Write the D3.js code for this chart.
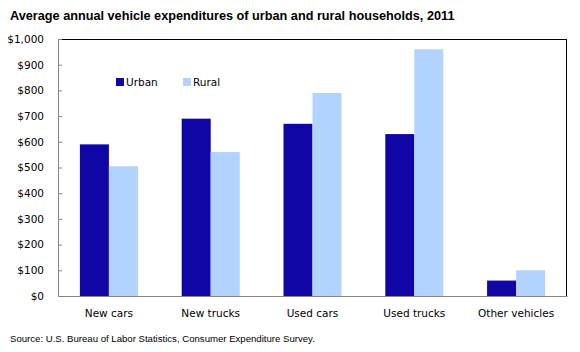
<!DOCTYPE html>
<html>
<head>
<meta charset="utf-8">
<script src="https://cdn.jsdelivr.net/npm/d3@7"></script>
<style>
  body { margin: 0; background: #fff; }
  svg { display: block; }
</style>
</head>
<body>
<div id="chart"></div>
<script>
// data
const categories = ["New cars", "New trucks", "Used cars", "Used trucks", "Other vehicles"];
const seriesNames = ["Urban", "Rural"];
const urban = [590, 690, 670, 630, 60];
const rural = [505, 560, 790, 960, 100];
const yTicks = [0, 100, 200, 300, 400, 500, 600, 700, 800, 900, 1000];
const colors = ["#1005a5", "#b1d3fe"];

const W = 580, H = 352;
const margin = { top: 39, right: 13, bottom: 56, left: 58 };
const width = W - margin.left - margin.right;
const height = H - margin.top - margin.bottom;

const svg = d3.select("#chart").append("svg")
    .attr("width", W)
    .attr("height", H);

svg.append("text")
    .attr("x", 10)
    .attr("y", 20)
    .style("font-family", "'Liberation Sans', Arial, sans-serif")
    .style("font-weight", "bold")
    .style("font-size", "12.7px")
    .text("Average annual vehicle expenditures of urban and rural households, 2011");

const g = svg.append("g")
    .attr("transform", "translate(" + margin.left + "," + margin.top + ")");

const x0 = d3.scaleBand()
    .domain(categories)
    .range([0, width])
    .paddingInner(0.43)
    .paddingOuter(0.215);

const x1 = d3.scaleBand()
    .domain(seriesNames)
    .range([0, x0.bandwidth()]);

const y = d3.scaleLinear()
    .domain([0, 1000])
    .range([height, 0]);

// top and right frame lines
g.append("line")
    .attr("x1", 0).attr("x2", width)
    .attr("y1", 0.5).attr("y2", 0.5)
    .attr("stroke", "#000");
g.append("line")
    .attr("x1", width - 0.5).attr("x2", width - 0.5)
    .attr("y1", 0).attr("y2", height)
    .attr("stroke", "#000");

const rows = categories.map((c, i) => ({ cat: c, values: [urban[i], rural[i]] }));

const groups = g.selectAll(".grp")
    .data(rows)
    .enter().append("g")
    .attr("class", "grp")
    .attr("transform", d => "translate(" + x0(d.cat) + ",0)");

groups.selectAll("rect")
    .data(d => d.values.map((v, j) => ({ key: seriesNames[j], value: v })))
    .enter().append("rect")
    .attr("x", d => x1(d.key))
    .attr("y", d => y(d.value))
    .attr("width", x1.bandwidth())
    .attr("height", d => height - y(d.value))
    .attr("fill", (d, j) => colors[j]);

// y axis, ticks pointing inside
const yAxis = d3.axisRight(y)
    .tickValues(yTicks)
    .tickSize(4)
    .tickFormat(d => "$" + d3.format(",")(d));

const ya = g.append("g")
    .attr("class", "y axis")
    .call(yAxis);
ya.select(".domain").attr("stroke", "#868686");
ya.selectAll(".tick line").attr("stroke", "#868686");
ya.selectAll("text")
    .attr("x", -14)
    .attr("text-anchor", "end")
    .style("font-family", "'DejaVu Sans', Tahoma, sans-serif")
    .style("font-size", "10.5px")
    .attr("fill", "#000");

// x axis
const xa = g.append("g")
    .attr("transform", "translate(0," + height + ")")
    .call(d3.axisBottom(x0).tickSize(0).tickPadding(14));
xa.select(".domain").attr("stroke", "#868686");
xa.selectAll("text")
    .style("font-family", "'DejaVu Sans', Tahoma, sans-serif")
    .style("font-size", "10.5px")
    .attr("fill", "#000");

// legend
const legend = g.append("g")
    .attr("transform", "translate(58,39)");
const li = legend.selectAll("g")
    .data(seriesNames)
    .enter().append("g")
    .attr("transform", (d, i) => "translate(" + (i * 67) + ",0)");
li.append("rect")
    .attr("width", 8)
    .attr("height", 8)
    .attr("fill", (d, i) => colors[i]);
li.append("text")
    .attr("x", 10)
    .attr("y", 8)
    .style("font-family", "'DejaVu Sans', Tahoma, sans-serif")
    .style("font-size", "10.5px")
    .text(d => d);

svg.append("text")
    .attr("x", 10)
    .attr("y", 342)
    .style("font-family", "'Liberation Sans', Arial, sans-serif")
    .style("font-size", "9.6px")
    .text("Source: U.S. Bureau of Labor Statistics, Consumer Expenditure Survey.");
</script>
</body>
</html>
